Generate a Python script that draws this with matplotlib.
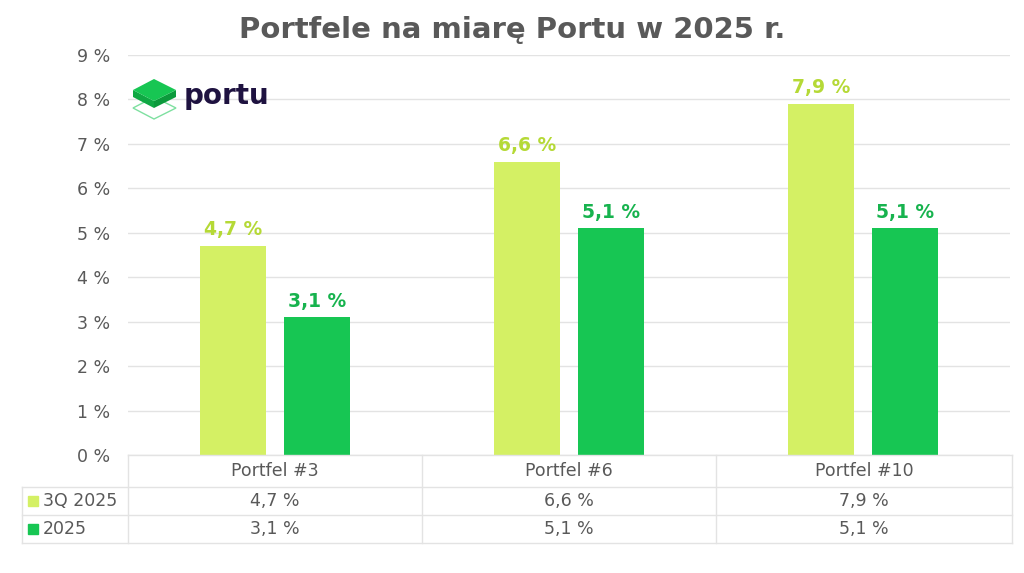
import matplotlib.pyplot as plt
import numpy as np
from matplotlib.patches import Polygon

categories = ['Portfel #3', 'Portfel #6', 'Portfel #10']
series_names = ['3Q 2025', '2025']
vals_3q = [4.7, 6.6, 7.9]
vals_2025 = [3.1, 5.1, 5.1]

LIGHT = '#D4F064'
DARK = '#17C653'
LIGHT_TXT = '#B5D936'
DARK_TXT = '#17B34E'
GRAY = '#595959'
GRID = '#E3E3E3'

plt.rcParams['font.family'] = ['DejaVu Sans']

W, H = 1024, 573
fig = plt.figure(figsize=(W / 100, H / 100), dpi=100)
fig.set_facecolor('white')

def fx(px):
    return px / W

def fy(py):
    return 1 - py / H

# plot area in pixels
x0, x1 = 128, 1010
y_top, y_bot = 55, 455
ax = fig.add_axes([fx(x0), fy(y_bot), fx(x1 - x0), (y_bot - y_top) / H])

x = np.arange(len(categories))
bw = 0.224
off = 0.143
b1 = ax.bar(x - off, vals_3q, bw, color=LIGHT, zorder=3)
b2 = ax.bar(x + off, vals_2025, bw, color=DARK, zorder=3)

for rect, v in zip(b1, vals_3q):
    ax.text(rect.get_x() + rect.get_width() / 2, v + 0.15, f'{v:.1f} %'.replace('.', ','),
            ha='center', va='bottom', fontsize=13.5, fontweight='bold', color=LIGHT_TXT)
for rect, v in zip(b2, vals_2025):
    ax.text(rect.get_x() + rect.get_width() / 2, v + 0.15, f'{v:.1f} %'.replace('.', ','),
            ha='center', va='bottom', fontsize=13.5, fontweight='bold', color=DARK_TXT)

ax.set_xlim(-0.5, len(categories) - 0.5)
ax.set_ylim(0, 9)
ax.set_yticks(range(10))
ax.set_yticklabels([f'{i} %' for i in range(10)], fontsize=12.5, color=GRAY)
ax.set_xticks([])
ax.tick_params(axis='y', length=0, pad=13)
ax.grid(axis='y', color=GRID, linewidth=1, zorder=0)
for s in ax.spines.values():
    s.set_visible(False)

# title
fig.text(0.5, fy(30), 'Portfele na miarę Portu w 2025 r.', ha='center', va='center',
         fontsize=21, fontweight='bold', color=GRAY)

# data table under the axes
row_y = [455, 487, 515, 543]
col_x = [x0 + i * (x1 - x0) / 3 for i in range(4)]
col_x[-1] = 1012
leg_x = 22
lc = GRID
lw = 1
# horizontal lines
fig.add_artist(plt.Line2D([fx(x0), fx(col_x[-1])], [fy(row_y[0])] * 2, color=lc, lw=lw))
for yy in row_y[1:]:
    fig.add_artist(plt.Line2D([fx(leg_x), fx(col_x[-1])], [fy(yy)] * 2, color=lc, lw=lw))
# vertical lines
for xx in col_x:
    fig.add_artist(plt.Line2D([fx(xx)] * 2, [fy(row_y[0]), fy(row_y[-1])], color=lc, lw=lw))
fig.add_artist(plt.Line2D([fx(leg_x)] * 2, [fy(row_y[1]), fy(row_y[-1])], color=lc, lw=lw))

for i, c in enumerate(categories):
    cx = (col_x[i] + col_x[i + 1]) / 2
    fig.text(fx(cx), fy((row_y[0] + row_y[1]) / 2), c, ha='center', va='center',
             fontsize=12.5, color=GRAY)

rows = [vals_3q, vals_2025]
colors = [LIGHT, DARK]
for r, (name, vals, col) in enumerate(zip(series_names, rows, colors)):
    cy = (row_y[r + 1] + row_y[r + 2]) / 2
    fig.patches.append(plt.Rectangle((fx(28), fy(cy + 5)), fx(10), 10 / H, color=col,
                                     transform=fig.transFigure, figure=fig))
    fig.text(fx(43), fy(cy), name, ha='left', va='center', fontsize=12.5, color=GRAY)
    for i, v in enumerate(vals):
        cx = (col_x[i] + col_x[i + 1]) / 2
        fig.text(fx(cx), fy(cy), f'{v:.1f} %'.replace('.', ','), ha='center', va='center',
                 fontsize=12.5, color=GRAY)

# portu logo
def poly(pts, **kw):
    p = Polygon([(fx(a), fy(b)) for a, b in pts], closed=True,
                transform=fig.transFigure, figure=fig, **kw)
    fig.patches.append(p)

poly([(133, 108), (154, 97), (176, 108), (154, 119)], fill=False, edgecolor='#7EE0A0', lw=1)
poly([(133, 90), (133, 97), (154, 108), (154, 101)], facecolor='#0FA843', edgecolor='none')
poly([(154, 101), (154, 108), (176, 97), (176, 90)], facecolor='#0C9A3C', edgecolor='none')
poly([(133, 90), (154, 79), (176, 90), (154, 101)], facecolor=DARK, edgecolor='none')
fig.text(fx(184), fy(96), 'portu', ha='left', va='center', fontsize=20,
         fontweight='bold', color='#1E1240')

fig.savefig('out.png', dpi=100, facecolor='white')
